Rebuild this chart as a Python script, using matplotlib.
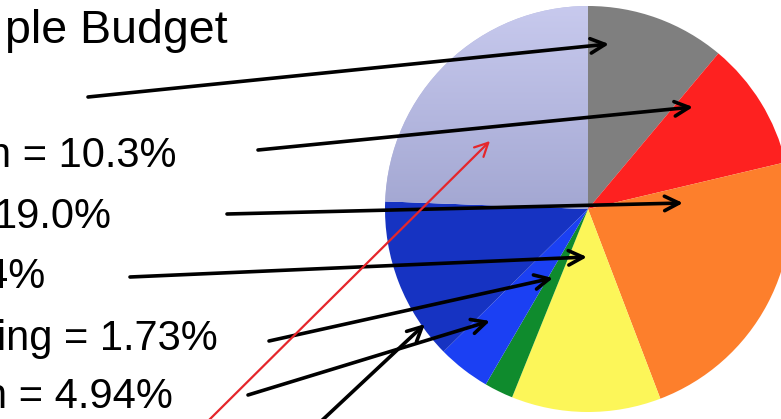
import numpy as np
import matplotlib
matplotlib.use("Agg")
import matplotlib.pyplot as plt

plt.rcParams['font.family'] = ['Liberation Sans', 'DejaVu Sans']

# Slice shares (percent), clockwise from 12 o'clock
shares = [11.1, 10.2, 22.9, 11.9, 2.3, 4.2, 13.0, 24.4]
colors = ['#7f7f7f', '#fe2120', '#fd7f2c', '#fcf659', '#0f8b2d',
          '#1b40f3', '#1633c2', '#b7badf']

# Label fragments visible at the left edge (right end x, baseline y in px)
labels = ['n = 10.3%', '19.0%', '4%', 'ing = 1.73%', 'n = 4.94%']
label_x = [177, 112, 45, 218, 173]
label_y = [167, 228, 288, 350, 408]

# Arrows: start -> end, in pixels from the top-left corner
arrow_start = [(88, 97), (258, 150), (227, 214), (130, 277), (269, 341),
               (248, 395), (316, 426)]
arrow_end = [(609, 44), (693, 107), (683, 203), (587, 257), (553, 278),
             (490, 321), (425, 324)]
red_start = (203, 426)
red_end = (490, 141)

W, H = 781, 419
fig = plt.figure(figsize=(W / 100, H / 100), dpi=100)
ax = fig.add_axes([0, 0, 1, 1])

# y axis is flipped (pixel coords), so counterclock=True reads clockwise on screen
wedges, _ = ax.pie(shares, colors=colors, startangle=-90, counterclock=True,
                   center=(588, 209), radius=203,
                   wedgeprops=dict(linewidth=0))
ax.set_xlim(0, W)
ax.set_ylim(H, 0)
ax.axis('off')

# soft vertical gradient on the lavender slice
grad = np.linspace(0, 1, 256).reshape(-1, 1)
top = np.array([200, 202, 238]) / 255
bot = np.array([163, 167, 210]) / 255
img = top + (bot - top) * grad[..., None]
im = ax.imshow(img, extent=(380, 590, 210, 5), aspect='auto', zorder=1.5)
im.set_clip_path(wedges[-1])

ax.text(228, 43, 'ple Budget', fontsize=33.5, ha='right', va='baseline')
for t, x, y in zip(labels, label_x, label_y):
    ax.text(x, y, t, fontsize=30, ha='right', va='baseline')

for s, e in zip(arrow_start, arrow_end):
    ax.annotate('', xy=e, xytext=s, annotation_clip=False,
                arrowprops=dict(arrowstyle='->', lw=2.6, color='black',
                                mutation_scale=26, shrinkA=0, shrinkB=0))
ax.annotate('', xy=red_end, xytext=red_start, annotation_clip=False,
            arrowprops=dict(arrowstyle='->', lw=1.6, color='#e5262b',
                            mutation_scale=24, shrinkA=0, shrinkB=0))

fig.savefig('out.png', dpi=100)
